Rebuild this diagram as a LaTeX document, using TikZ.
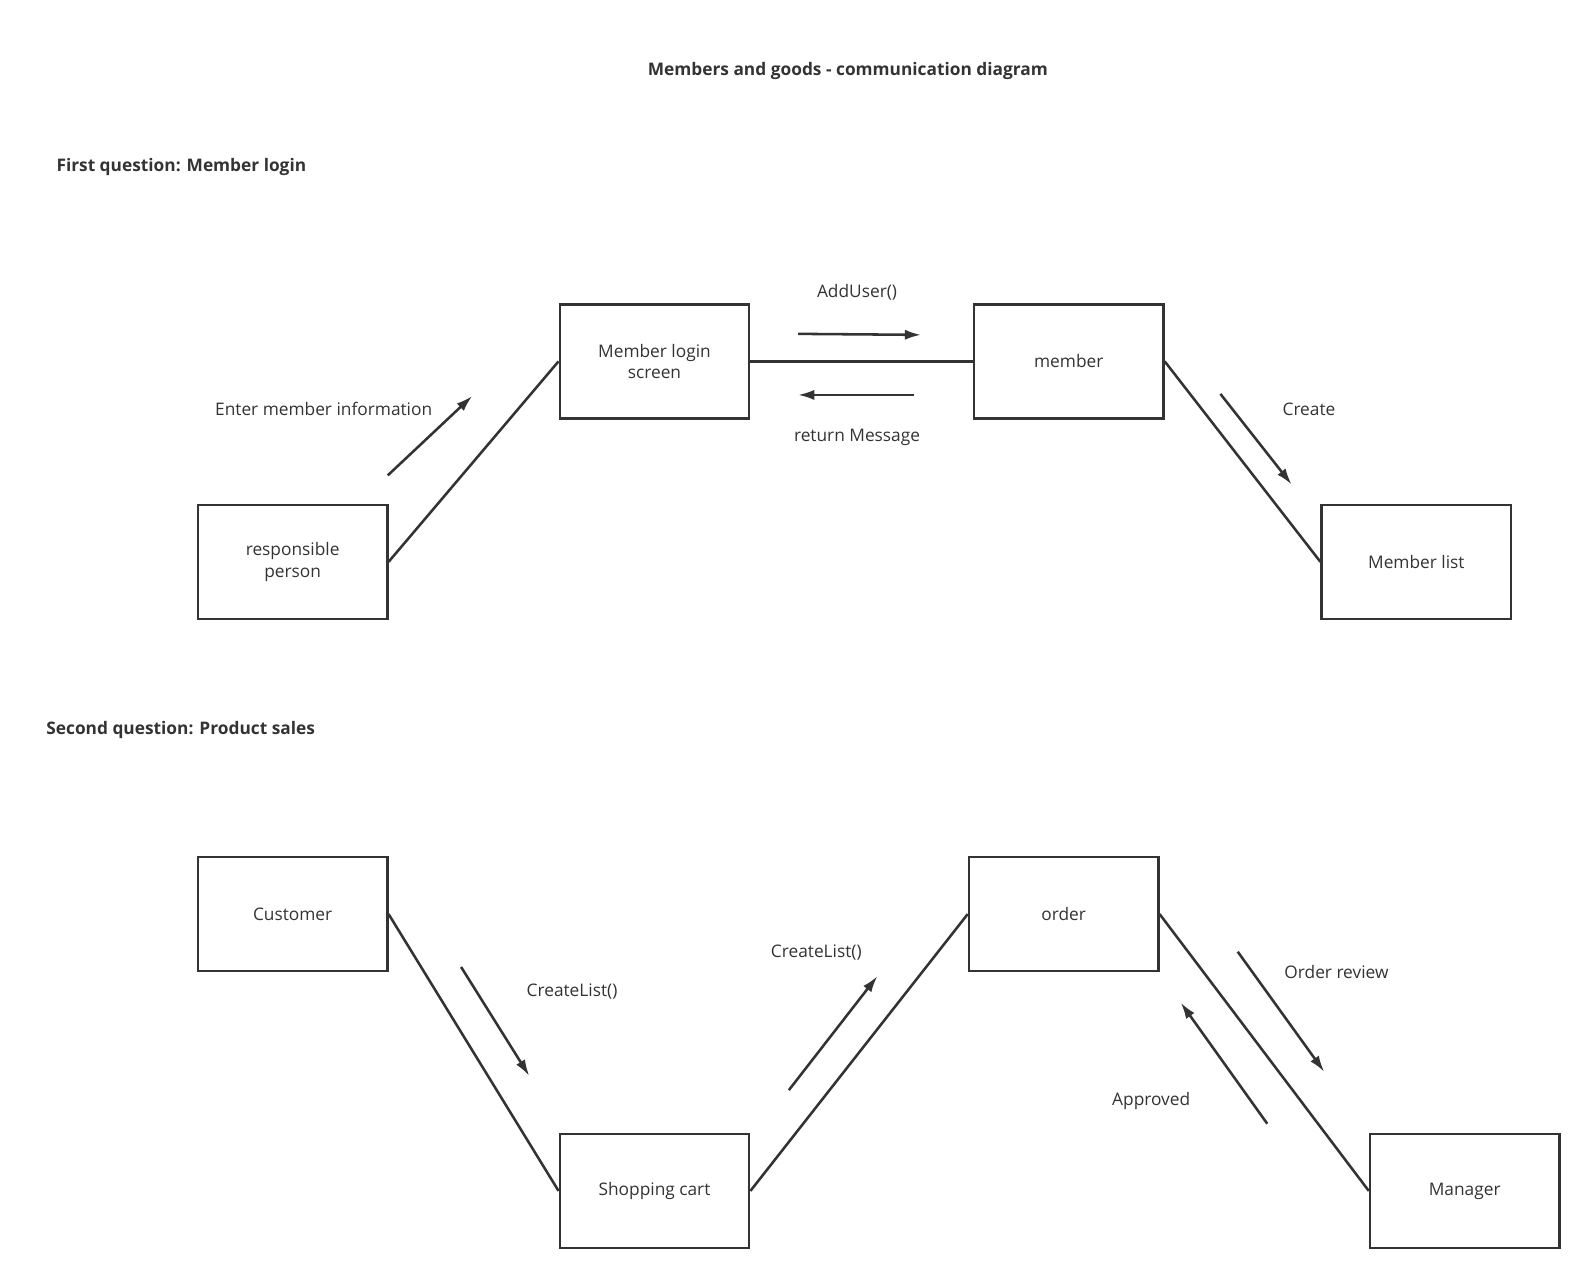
\documentclass[tikz,border=0pt]{standalone}
\usepackage{fontspec}
\setmainfont{Open Sans}
\usetikzlibrary{arrows.meta}
\definecolor{ink}{HTML}{333333}
\begin{document}
\begin{tikzpicture}[x=1pt,y=-1pt,
  box/.style={draw=ink,line width=2.5pt,minimum width=186pt,minimum height=112pt,align=center,font=\fontsize{17}{21}\selectfont,text=ink},
  lbl/.style={font=\fontsize{17}{19}\selectfont,text=ink},
  hd/.style={font=\bfseries\fontsize{17}{19}\selectfont,text=ink,anchor=west},
  ln/.style={draw=ink,line width=2.5pt},
  ar/.style={draw=ink,line width=2.5pt,-{Latex[length=16pt,width=10pt]}}]
\useasboundingbox (0,0) rectangle (1568,1263);
\node[font=\bfseries\fontsize{17}{19}\selectfont,text=ink] (title) at (833,70) {Members and goods - communication diagram};
\node[hd] (q1) at (52,164) {First question: Member login};
\node[hd] (q2) at (42,717) {Second question: Product sales};
\node[box] (login) at (643,355) {Member login\\screen};
\node[box] (member) at (1050,355) {member};
\node[box] (resp) at (287.5,552) {responsible\\person};
\node[box] (mlist) at (1391.5,552) {Member list};
\node[box] (cust) at (287.5,898) {Customer};
\node[box] (cart) at (643,1170) {Shopping cart};
\node[box] (order) at (1045,898) {order};
\node[box] (mgr) at (1439,1170) {Manager};
\draw[ln] (resp.east) -- (login.west);
\draw[ln] (login.east) -- (member.west);
\draw[ln] (member.east) -- (mlist.west);
\draw[ln] (cust.east) -- (cart.west);
\draw[ln] (cart.east) -- (order.west);
\draw[ln] (order.east) -- (mgr.west);
\coordinate (a1) at (381,467); \coordinate (b1) at (464,389);
\coordinate (a2) at (784,328); \coordinate (b2) at (905,329);
\coordinate (a3) at (898,388); \coordinate (b3) at (784,388);
\coordinate (a4) at (1199,387); \coordinate (b4) at (1269,476);
\coordinate (a5) at (453,950); \coordinate (b5) at (520,1057);
\coordinate (a6) at (775,1071); \coordinate (b6) at (862,959);
\coordinate (a7) at (1216,935); \coordinate (b7) at (1301,1053);
\coordinate (a8) at (1245,1104); \coordinate (b8) at (1160,985);
\foreach \i in {1,...,8} {\draw[ar] (a\i) -- (b\i);}
\node[lbl] (l1) at (318,402) {Enter member information};
\node[lbl] (l2) at (842,287) {AddUser()};
\node[lbl] (l3) at (842,430) {return Message};
\node[lbl] (l4) at (1286,402) {Create};
\node[lbl] (l5) at (562,974) {CreateList()};
\node[lbl] (l6) at (802,936) {CreateList()};
\node[lbl] (l7) at (1313,955) {Order review};
\node[lbl] (l8) at (1131,1082) {Approved};
\end{tikzpicture}
\end{document}
